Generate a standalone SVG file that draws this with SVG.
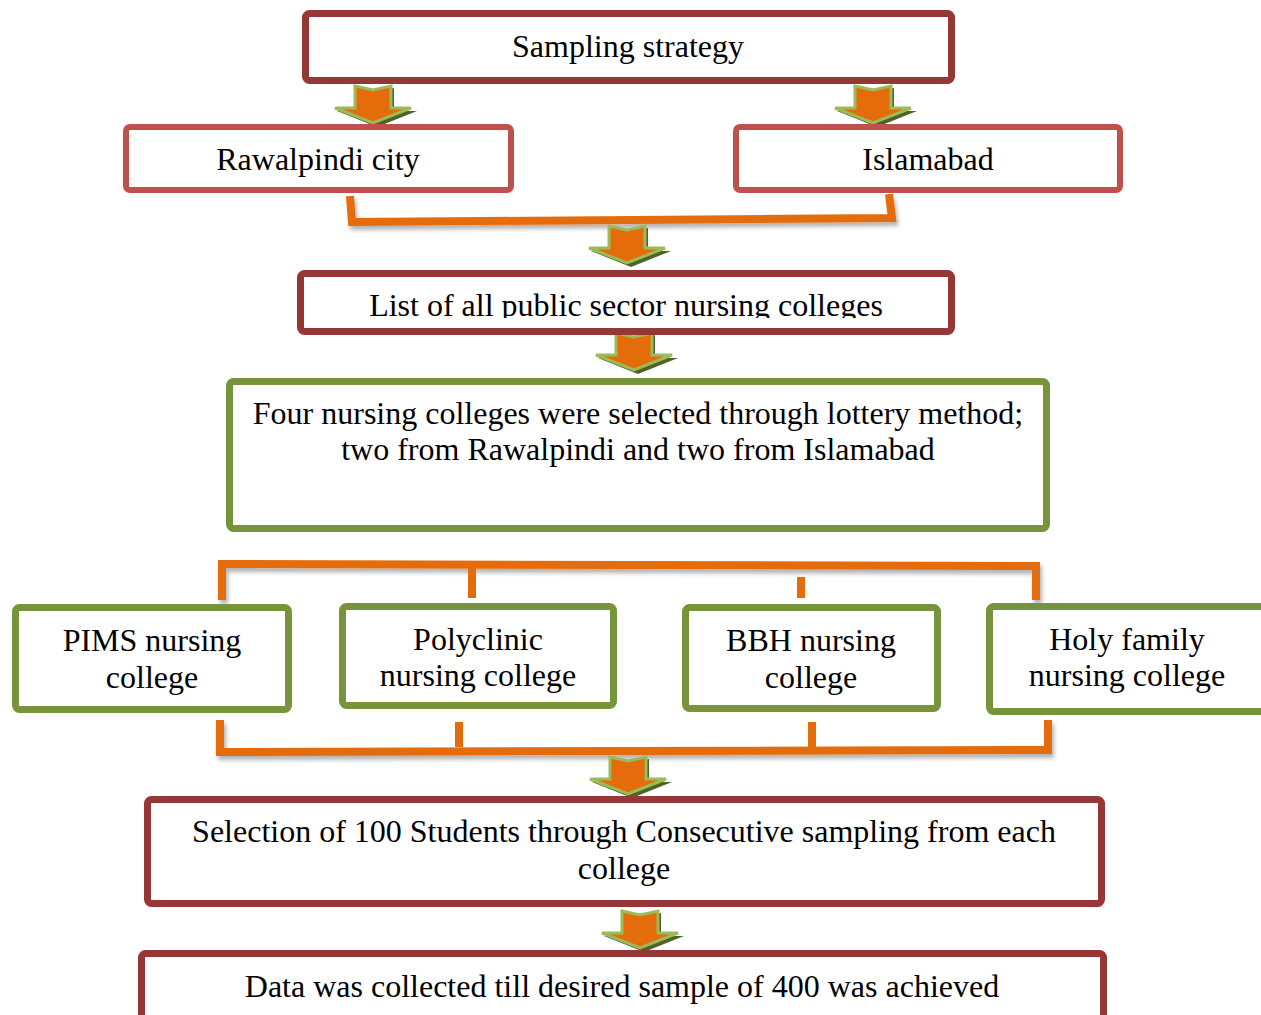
<svg xmlns="http://www.w3.org/2000/svg" width="1261" height="1015" viewBox="0 0 1261 1015">
<style>
  .txt{font-family:"Liberation Serif","Times New Roman",serif;font-size:32px;fill:#000;text-anchor:middle}
  .dred{fill:#fff;stroke:#953735;stroke-width:7}
  .lred{fill:#fff;stroke:#C0504D;stroke-width:6}
  .grn{fill:#fff;stroke:#77933C;stroke-width:7}
  .conn{fill:none;stroke:#E46C0A;stroke-width:8;stroke-linejoin:miter;stroke-linecap:butt}
</style>
<defs>
  <filter id="sh" x="-5%" y="-50%" width="110%" height="200%">
    <feDropShadow dx="2" dy="4" stdDeviation="2" flood-color="#000" flood-opacity="0.3"/>
  </filter>
  <g id="arr">
    <path d="M-16,2 L2,6 L21,2 L21,25 L44,25 L4,41 L-36,25 L-16,25 Z" fill="#4F6228"/>
    <path d="M-18,0 L0,4 L18,0 L18,22 L38,22 L0,37 L-38,22 L-18,22 Z" fill="#E46C0A" stroke="#9BBB59" stroke-width="3" stroke-linejoin="miter"/>
  </g>
  <clipPath id="clipList"><rect x="300" y="273" width="652" height="45"/></clipPath>
</defs>

<g id="connectors">
  <path class="conn" filter="url(#sh)" d="M350,196 L352,222 L892,218 L889,194"/>
  <path class="conn" filter="url(#sh)" d="M222,600 L222,564 L1036,566 L1036,600"/>
  <path class="conn" d="M472,566 L472,598"/>
  <path class="conn" d="M801,577 L801,598"/>
  <path class="conn" filter="url(#sh)" d="M220,720 L220,752 L1048,750 L1048,720"/>
  <path class="conn" d="M459,722 L459,747"/>
  <path class="conn" d="M812,722 L812,748"/>
  <use href="#arr" x="373" y="86"/>
  <use href="#arr" x="873" y="86"/>
  <use href="#arr" x="627" y="226"/>
  <use href="#arr" x="634" y="333"/>
  <use href="#arr" x="628" y="757"/>
  <use href="#arr" x="640" y="911"/>
</g>

<g id="n1">
  <rect class="dred" x="305.5" y="13.5" width="646" height="67" rx="4"/>
  <text class="txt" x="628" y="57">Sampling strategy</text>
</g>
<g id="n2">
  <rect class="lred" x="126" y="127" width="385" height="63" rx="4"/>
  <text class="txt" x="318" y="170">Rawalpindi city</text>
</g>
<g id="n3">
  <rect class="lred" x="736" y="127" width="384" height="63" rx="4"/>
  <text class="txt" x="928" y="170">Islamabad</text>
</g>
<g id="n4">
  <rect class="dred" x="300.5" y="273.5" width="651" height="58" rx="4"/>
  <text class="txt" x="626" y="316" clip-path="url(#clipList)">List of all public sector nursing colleges</text>
</g>
<g id="n5">
  <rect class="grn" x="229.5" y="381.5" width="817" height="147" rx="4"/>
  <text class="txt" x="638" y="424">Four nursing colleges were selected through lottery method;</text>
  <text class="txt" x="638" y="460">two from Rawalpindi and two from Islamabad</text>
</g>
<g id="n6">
  <rect class="grn" x="15.5" y="607.5" width="273" height="102" rx="4"/>
  <text class="txt" x="152" y="651">PIMS nursing</text>
  <text class="txt" x="152" y="688">college</text>
</g>
<g id="n7">
  <rect class="grn" x="342.5" y="606.5" width="271" height="99" rx="4"/>
  <text class="txt" x="478" y="650">Polyclinic</text>
  <text class="txt" x="478" y="686">nursing college</text>
</g>
<g id="n8">
  <rect class="grn" x="685.5" y="607.5" width="252" height="101" rx="4"/>
  <text class="txt" x="811" y="651">BBH nursing</text>
  <text class="txt" x="811" y="688">college</text>
</g>
<g id="n9">
  <rect class="grn" x="989.5" y="606.5" width="280" height="105" rx="4"/>
  <text class="txt" x="1127" y="650">Holy family</text>
  <text class="txt" x="1127" y="686">nursing college</text>
</g>
<g id="n10">
  <rect class="dred" x="147.5" y="799.5" width="954" height="104" rx="4"/>
  <text class="txt" x="624" y="842">Selection of 100 Students through Consecutive sampling from each</text>
  <text class="txt" x="624" y="879">college</text>
</g>
<g id="n11">
  <rect class="dred" x="141.5" y="953.5" width="962" height="80" rx="4"/>
  <text class="txt" x="622" y="997">Data was collected till desired sample of 400 was achieved</text>
</g>
</svg>
